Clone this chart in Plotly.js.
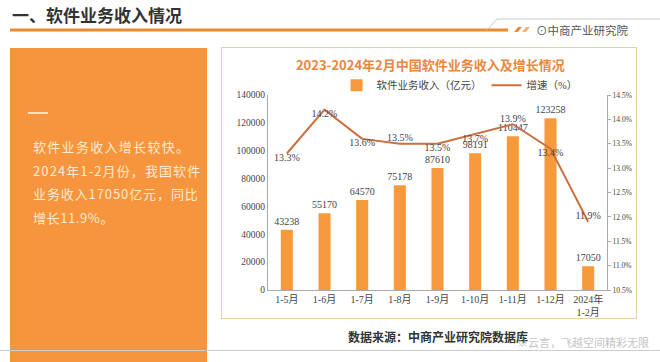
<!DOCTYPE html>
<html>
<head>
<meta charset="utf-8">
<script src="https://cdn.plot.ly/plotly-3.0.1.min.js"></script>
<style>
  html, body { margin: 0; padding: 0; background: #fff; }
  #wrap { position: relative; width: 660px; height: 362px; overflow: hidden; background: #fff; font-family: "Noto Sans CJK SC", sans-serif; }
  .abs { position: absolute; white-space: nowrap; }
  #plot { position: absolute; left: 0; top: 0; width: 660px; height: 362px; }
  .side { position: absolute; left: 33px; font-size: 13px; color: #FDEBCF; letter-spacing: 1.3px; white-space: nowrap; }
</style>
</head>
<body>
<div id="wrap">
  <div class="abs" style="left:12px;top:2px;font-size:17px;font-weight:bold;color:#333;">一、软件业务收入情况</div>
  <svg class="abs" style="left:0;top:0" width="660" height="48">
    <line x1="10" y1="30" x2="508" y2="30" stroke="#F0892A" stroke-width="3"/>
    <polyline points="486,31 497,19 660,19" fill="none" stroke="#bbb" stroke-width="0.8"/>
    <polygon points="514,32 518,27 522,27 518,32" fill="#F08A3A"/>
    <polygon points="522,32 526,27 530,27 526,32" fill="#F5B27A"/>
  </svg>
  <div class="abs" style="left:536px;top:22px;font-size:11.5px;color:#555;">⊙中商产业研究院</div>

  <div class="abs" style="left:10px;top:48px;width:197px;height:320px;background:#F7953E;"></div>
  <div class="abs" style="left:28px;top:112px;width:20px;height:1.5px;background:#FCE3C4;"></div>
  <div class="side" style="top:137px;">软件业务收入增长较快。</div>
  <div class="side" style="top:161px;letter-spacing:1.1px;">2024年1-2月份，我国软件</div>
  <div class="side" style="top:184px;letter-spacing:0.9px;">业务收入17050亿元，同比</div>
  <div class="side" style="top:208px;letter-spacing:0.6px;">增长11.9%。</div>

  <div class="abs" style="left:221px;top:47px;width:414px;height:270px;border:1.5px solid #ECCDA4;"></div>
  <div class="abs" style="left:0;top:350px;width:660px;height:1px;background:#ccc;"></div>
  <div class="abs" style="left:348px;top:328px;font-size:12px;font-weight:bold;color:#333;font-family:'Liberation Serif','Noto Sans CJK SC',serif;">数据来源：中商产业研究院数据库</div>
  <div class="abs" style="left:517px;top:334px;font-size:11px;color:#c4c4c4;">※云言，飞越空间精彩无限</div>

  <div id="plot"></div>
</div>
<script>
const categories = ["1-5月", "1-6月", "1-7月", "1-8月", "1-9月", "1-10月", "1-11月", "1-12月", "2024年<br>1-2月"];
const revenue = [43238, 55170, 64570, 75178, 87610, 98191, 110447, 123258, 17050];
const growth = [13.3, 14.2, 13.6, 13.5, 13.5, 13.7, 13.9, 13.4, 11.9];
const growthLabelPos = ["bottom center", "bottom center", "bottom center", "top center", "bottom center", "bottom center", "top center", "bottom center", "top center"];

const serif = "Liberation Serif, Noto Sans CJK SC, serif";

const traces = [
  {
    type: "bar",
    name: "软件业务收入（亿元）",
    x: categories,
    y: revenue,
    marker: { color: "#F79A3C" },
    text: revenue.map(String),
    textposition: "outside",
    constraintext: "none",
    cliponaxis: false,
    textfont: { family: serif, size: 10, color: "#444" },
    hoverinfo: "skip"
  },
  {
    type: "scatter",
    mode: "lines+text",
    name: "增速（%）",
    x: categories,
    y: growth,
    yaxis: "y2",
    line: { color: "#C9703F", width: 2 },
    text: growth.map(v => v.toFixed(1) + "%"),
    textposition: growthLabelPos,
    cliponaxis: false,
    textfont: { family: serif, size: 10, color: "#444" },
    hoverinfo: "skip"
  }
];

const layout = {
  width: 660,
  height: 362,
  margin: { l: 268, r: 53, t: 95, b: 72 },
  paper_bgcolor: "rgba(0,0,0,0)",
  plot_bgcolor: "rgba(0,0,0,0)",
  showlegend: true,
  bargap: 0.68,
  title: {
    text: "2023-2024年2月中国软件业务收入及增长情况",
    font: { family: "Noto Sans CJK SC, sans-serif", size: 13, color: "#E8873F", weight: "bold" },
    xref: "container", yref: "container",
    x: 0.652, xanchor: "center",
    y: 0.82, yanchor: "middle"
  },
  legend: {
    orientation: "h",
    x: 0.565, xanchor: "center",
    y: 1.05, yanchor: "middle",
    font: { family: serif, size: 10.5, color: "#444" },
    bgcolor: "rgba(0,0,0,0)",
    traceorder: "normal",
    itemwidth: 30
  },
  xaxis: {
    type: "category",
    showline: true,
    linecolor: "#aaa",
    linewidth: 1,
    ticks: "",
    tickfont: { family: serif, size: 10, color: "#444" },
    showgrid: false,
    zeroline: false
  },
  yaxis: {
    range: [0, 140000],
    dtick: 20000,
    showline: true,
    linecolor: "#aaa",
    linewidth: 1,
    ticks: "",
    showgrid: false,
    zeroline: false,
    tickformat: "d",
    tickfont: { family: serif, size: 9.5, color: "#444" }
  },
  yaxis2: {
    overlaying: "y",
    side: "right",
    range: [10.5, 14.5],
    dtick: 0.5,
    tickformat: ".1f",
    ticksuffix: "%",
    showline: true,
    linecolor: "#aaa",
    linewidth: 1,
    ticks: "outside",
    ticklen: 3,
    tickcolor: "#aaa",
    showgrid: false,
    zeroline: false,
    tickfont: { family: serif, size: 7.5, color: "#444" }
  }
};

Plotly.newPlot("plot", traces, layout, { staticPlot: true, displayModeBar: false });
</script>
</body>
</html>
